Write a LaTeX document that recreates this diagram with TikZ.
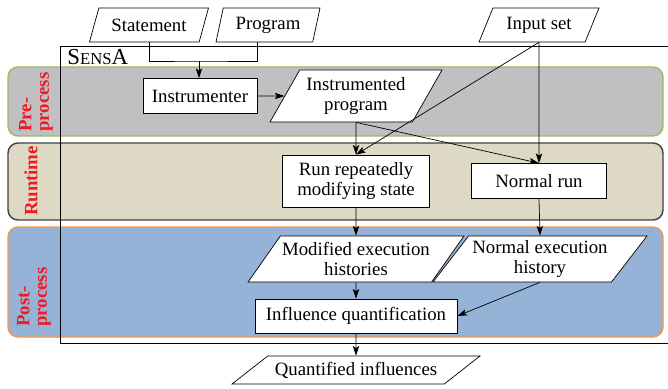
\documentclass[tikz,border=0pt]{standalone}
\usepackage{fontspec}
\setmainfont{Liberation Serif}
\usetikzlibrary{shapes.geometric,arrows.meta}
\definecolor{prefill}{RGB}{192,192,194}
\definecolor{preline}{RGB}{155,187,89}
\definecolor{runfill}{RGB}{221,217,196}
\definecolor{runline}{RGB}{64,64,64}
\definecolor{postfill}{RGB}{149,179,215}
\definecolor{postline}{RGB}{247,150,70}
\definecolor{phasered}{RGB}{237,28,36}

\begin{document}
\begin{tikzpicture}[x=0.02cm,y=-0.02cm,
    font=\fontsize{10.7}{11.5}\selectfont,
    >={Stealth[length=5.5pt,width=3.6pt,inset=1.2pt]},
    proc/.style={draw,fill=white,align=center,inner sep=1pt},
    data/.style={draw,fill=white,align=center,inner sep=1pt,trapezium,trapezium stretches body},
    band/.style={rounded corners=0.2cm,line width=0.8pt},
    phase/.style={rotate=90,text=phasered,align=left,inner sep=0pt,
      font=\fontsize{10.7}{10}\selectfont\bfseries}]
      \useasboundingbox (0,0) rectangle (668,388);

      % the three phases
      \filldraw[band,fill=prefill,draw=preline] (8,67) rectangle (663,136);
      \filldraw[band,fill=runfill,draw=runline] (8,143) rectangle (663,220);
      \filldraw[band,fill=postfill,draw=postline] (8,227) rectangle (663,337);
      \node (prelbl) at (36,132) [phase,anchor=west] {Pre-\\process};
      \node (runlbl) at (31,181) [phase] {Runtime};
      \node (postlbl) at (34,327) [phase,anchor=west] {Post-\\process};

      % tool frame
      \draw (668,46) -| (60,343) -- (668,343);
      \node (sensa) at (67,57) [anchor=west,inner sep=0pt]
        {\fontsize{13}{13}\selectfont S\fontsize{9.5}{9.5}\selectfont ENS\fontsize{13}{13}\selectfont A};

      \node (stmt) at (149,25) [data,minimum width=2.38cm,minimum height=0.68cm,
        trapezium left angle=60,trapezium right angle=120] {Statement};
      \node (prog) at (268,25) [data,minimum width=2.08cm,minimum height=0.68cm,
        trapezium left angle=70,trapezium right angle=110] {Program};
      \node (input) at (539,25) [data,minimum width=2.4cm,minimum height=0.68cm,
        trapezium left angle=55,trapezium right angle=125] {Input set};

      \node (instr) at (200,96) [proc,minimum width=2.28cm,minimum height=0.7cm] {Instrumenter};
      \node (iprog) at (356,96) [data,minimum width=3.44cm,minimum height=1.04cm,
        trapezium left angle=54,trapezium right angle=126] {Instrumented\\program};

      \node (run) at (356,181) [proc,minimum width=2.94cm,minimum height=1.04cm] {Run repeatedly\\modifying state};
      \node (nrun) at (539,181) [proc,minimum width=2.7cm,minimum height=0.7cm] {Normal run};

      \node (mod) at (356,259) [data,minimum width=4.2cm,minimum height=0.92cm,
        trapezium left angle=49,trapezium right angle=131] {Modified execution\\histories};
      \node (nhist) at (540,259) [data,minimum width=4.28cm,minimum height=0.92cm,
        trapezium left angle=49,trapezium right angle=131] {Normal execution\\history};
      \node (infl) at (356,316) [proc,minimum width=4.04cm,minimum height=0.68cm] {Influence quantification};
      \node (quant) at (356,370) [data,minimum width=4.96cm,minimum height=0.56cm,
        trapezium left angle=29,trapezium right angle=151] {Quantified influences};

      \coordinate (join) at (199,61);
      \draw (stmt.south) |- (join) -| ([xshift=-0.22cm]prog.south);
      \path[->] (join) edge (join |- instr.north);
      \path[->] (instr) edge (iprog);
      \path[->] (iprog.south) edge (run.north);
      \path[->] (iprog.south) edge (nrun.north);
      \path[->] (input.south) edge (run.north);
      \path[->] (input.south) edge (nrun.north);
      \path[->] (run.south) edge (mod.north);
      \path[->] (nrun.south) edge (nhist.north);
      \path[->] (mod.south) edge (infl.north);
      \path[->] (nhist.south) edge (infl.east);
      \path[->] (infl.south) edge (quant.north);
    \end{tikzpicture}
\end{document}
